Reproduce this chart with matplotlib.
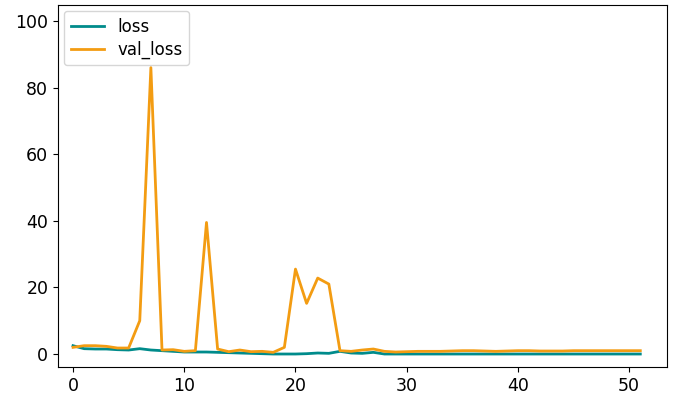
import matplotlib

matplotlib.use("Agg")
import matplotlib.pyplot as plt

# training history
epochs = list(range(52))
loss = [2.5, 1.6, 1.5, 1.5, 1.3, 1.2, 1.6, 1.2, 1.0, 0.8, 0.6, 0.6,
        0.6, 0.5, 0.4, 0.3, 0.2, 0.1, 0.0, 0.0, 0.0, 0.1, 0.3, 0.2,
        0.8, 0.3, 0.2, 0.5, 0.0, 0.0, 0.0, 0.0, 0.0, 0.0, 0.0, 0.0,
        0.0, 0.0, 0.0, 0.0, 0.0, 0.0, 0.0, 0.0, 0.0, 0.0, 0.0, 0.0,
        0.0, 0.0, 0.0, 0.0]
val_loss = [2.0, 2.5, 2.5, 2.3, 1.8, 1.8, 10.0, 86.0, 1.2, 1.3, 0.8, 1.0,
            39.5, 1.5, 0.7, 1.2, 0.7, 0.8, 0.5, 2.0, 25.5, 15.2, 22.8, 21.0,
            1.0, 0.8, 1.2, 1.5, 0.8, 0.6, 0.7, 0.8, 0.8, 0.8, 0.9, 1.0,
            1.0, 0.9, 0.8, 0.9, 1.0, 1.0, 0.9, 0.9, 0.9, 1.0, 1.0, 1.0,
            1.0, 1.0, 1.0, 1.0]

plt.rcParams["font.size"] = 12.5

fig = plt.figure(figsize=(6.75, 3.99), dpi=100)
ax = fig.add_axes([58 / 675, 1 - 367 / 399, 609 / 675, 362 / 399])
ax.plot(epochs, loss, color="darkcyan", linewidth=2, label="loss")
ax.plot(epochs, val_loss, color="#f39c12", linewidth=2, label="val_loss")
ax.set_xlim(-1.35, 53.4)
ax.set_ylim(-3.9, 104.8)
ax.set_xticks([0, 10, 20, 30, 40, 50])
ax.set_yticks([0, 20, 40, 60, 80, 100])
ax.legend(loc="upper left", fontsize=12, borderaxespad=0.35, labelspacing=0.3)

fig.savefig("out.png", dpi=100)
